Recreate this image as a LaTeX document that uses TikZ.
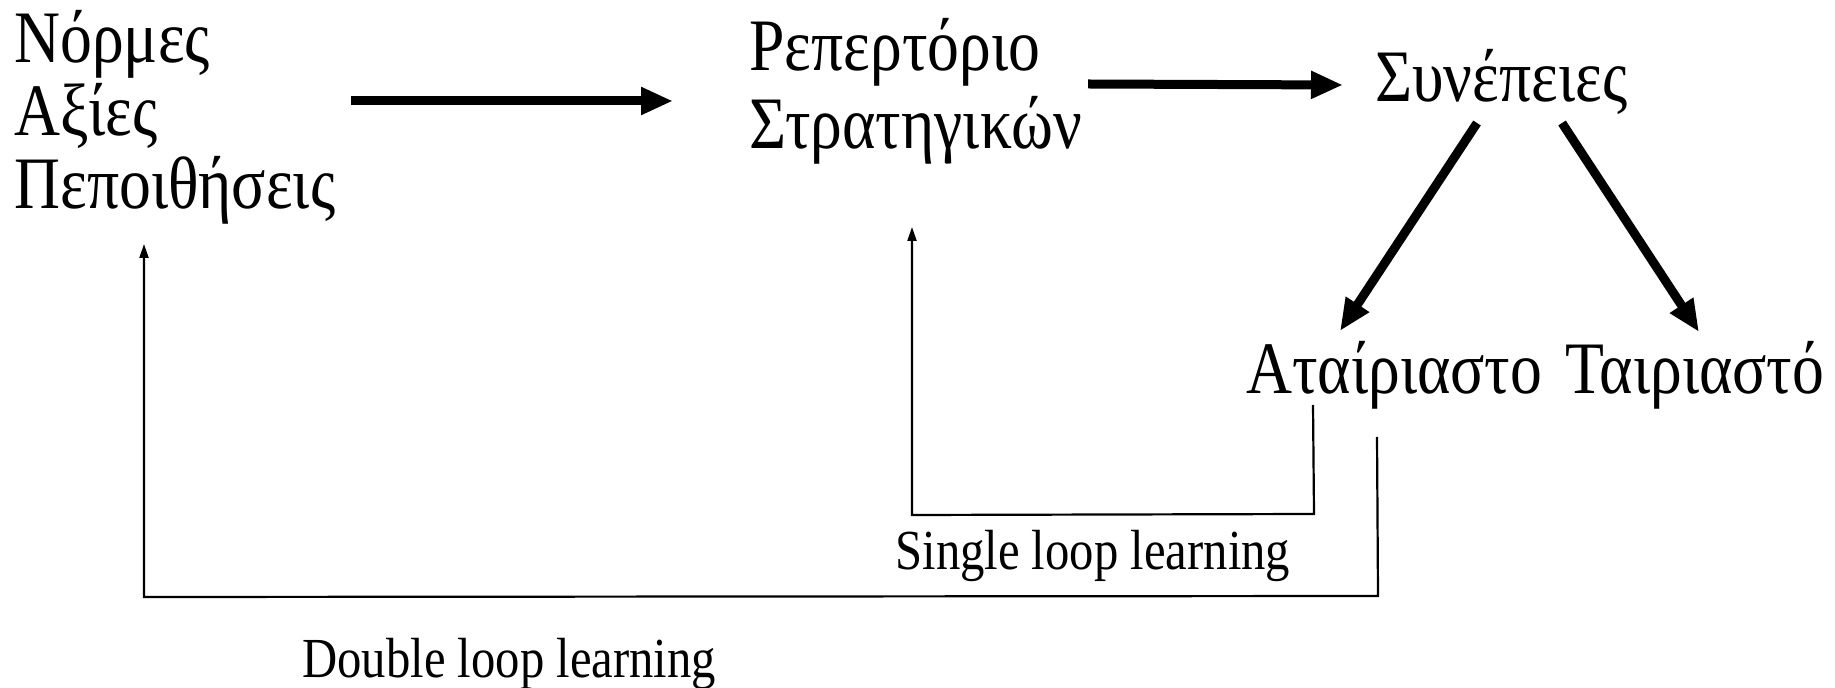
\documentclass[tikz,border=0pt]{standalone}
\usepackage{fontspec}
\setmainfont{Liberation Serif}[FakeStretch=0.86]
\usetikzlibrary{arrows.meta}
\begin{document}
\begin{tikzpicture}[x=0.5pt,y=-0.5pt,
  greek/.style={anchor=base west,inner sep=0pt,font=\fontsize{37}{38}\selectfont},
  eng/.style={anchor=base west,inner sep=0pt,font=\fontsize{28.3}{30}\selectfont},
  bigarrow/.style={line width=4.5pt,-{Triangle[length=16pt,width=13pt]}},
  thinarrow/.style={line width=1.1pt,-{Triangle[length=7pt,width=4.5pt]}}]
\useasboundingbox (0,0) rectangle (1835,688);
% texts
\node[greek] (norm) at (14,63) {Νόρμες};
\node[greek] (axies) at (14,136) {Αξίες};
\node[greek] (pep) at (14,209) {Πεποιθήσεις};
\node[greek] (rep1) at (749,71) {Ρεπερτόριο};
\node[greek] (rep2) at (749,149) {Στρατηγικών};
\node[greek] (syn) at (1375,102) {Συνέπειες};
\node[greek] (atair) at (1246,394) {Αταίριαστο};
\node[greek] (tair) at (1565,394) {Ταιριαστό};
\node[eng] (single) at (895,570) {Single loop learning};
\node[eng] (double) at (302,677) {Double loop learning};
% connector points
\coordinate (a1s) at (351,101);
\coordinate (a1e) at (673,101);
\coordinate (a2s) at (1088,84);
\coordinate (a2e) at (1343,85);
\coordinate (d1s) at (1477,123);
\coordinate (d1e) at (1340,331);
\coordinate (d2s) at (1562,123);
\coordinate (d2e) at (1699,332);
\coordinate (s0) at (1313,405);
\coordinate (s1) at (1314,514);
\coordinate (s2) at (912,515);
\coordinate (s3) at (912,227);
\coordinate (t0) at (1377,437);
\coordinate (t1) at (1378,596);
\coordinate (t2) at (144,597);
\coordinate (t3) at (144,244);
% arrows
\draw[bigarrow] (a1s) -- (a1e);
\draw[bigarrow] (a2s) -- (a2e);
\draw[bigarrow] (d1s) -- (d1e);
\draw[bigarrow] (d2s) -- (d2e);
\draw[thinarrow] (s0) -- (s1) -- (s2) -- (s3);
\draw[thinarrow] (t0) -- (t1) -- (t2) -- (t3);
\end{tikzpicture}
\end{document}
